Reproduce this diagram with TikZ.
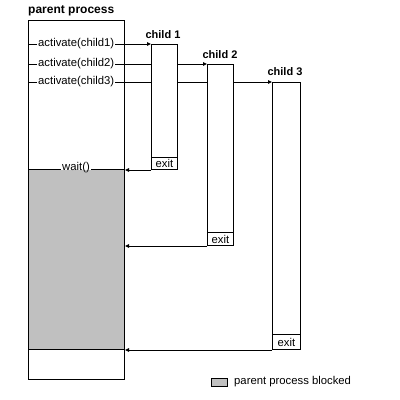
\documentclass[tikz,border=0pt]{standalone}
\usepackage{fontspec}
\setmainfont{Liberation Sans}
\usetikzlibrary{arrows.meta,backgrounds}
\definecolor{blockgray}{HTML}{C0C0C0}
\begin{document}
\begin{tikzpicture}[x=1pt,y=-1pt,
  procbox/.style={draw, line width=1pt, inner sep=0pt, anchor=north west},
  arr/.style={line width=1pt, -{Triangle[length=4pt,width=3.5pt]}},
  lbl/.style={font=\fontsize{11.3}{13}\selectfont, inner sep=1pt},
  ptitle/.style={font=\bfseries\fontsize{12}{14}\selectfont, inner sep=0pt},
  ctitle/.style={font=\bfseries\fontsize{11}{13}\selectfont, inner sep=0pt}
]
\useasboundingbox (0,0) rectangle (400,400);
% parent process
\node[procbox, minimum width=96pt, minimum height=359pt] (parent) at (28,20) {};
\node[procbox, fill=blockgray, minimum width=96pt, minimum height=180pt] (blocked) at (28,169) {};
\node[ptitle, anchor=west] (ptitle) at (28,11) {parent process};
% children
\node[procbox, fill=white, minimum width=26pt, minimum height=125pt] (c1) at (151,44) {};
\node[procbox, anchor=south west, minimum width=26pt, minimum height=12pt, lbl, inner sep=0pt] (e1) at (c1.south west) {exit};
\node[procbox, fill=white, minimum width=26pt, minimum height=181pt] (c2) at (207,64) {};
\node[procbox, anchor=south west, minimum width=26pt, minimum height=13pt, lbl, inner sep=0pt] (e2) at (c2.south west) {exit};
\node[procbox, fill=white, minimum width=28pt, minimum height=267pt] (c3) at (272,82) {};
\node[procbox, anchor=south west, minimum width=28pt, minimum height=15pt, lbl, inner sep=0pt] (e3) at (c3.south west) {exit};
\node[ctitle] (t1) at (163,35) {child 1};
\node[ctitle] (t2) at (220,55) {child 2};
\node[ctitle] (t3) at (285,72) {child 3};
% connectors
\begin{scope}[on background layer]
\draw[arr] (parent.west |- c1.north west) -- (c1.north west);
\draw[arr] (parent.west |- c2.north west) -- (c2.north west);
\draw[arr] (parent.west |- c3.north west) -- (c3.north west);
\draw[arr] (c1.south west) -- (c1.south west -| parent.east);
\draw[arr] (c2.south west) -- (c2.south west -| parent.east);
\draw[arr] (c3.south west) -- (c3.south west -| parent.east);
\end{scope}
% labels
\node[lbl, fill=white, anchor=west] (a1) at (37,44) {activate(child1)};
\node[lbl, fill=white, anchor=west] (a2) at (37,64) {activate(child2)};
\node[lbl, fill=white, anchor=west] (a3) at (37,82) {activate(child3)};
\node[lbl, fill=white, inner ysep=0pt, text depth=0pt, anchor=base] (w) at (76,170) {wait()};
% legend
\node[draw, line width=1pt, fill=blockgray, minimum width=16pt, minimum height=8pt, inner sep=0pt] (leg) at (219,382) {};
\node[lbl, anchor=west] (legt) at (233,382) {parent process blocked};
\end{tikzpicture}
\end{document}
